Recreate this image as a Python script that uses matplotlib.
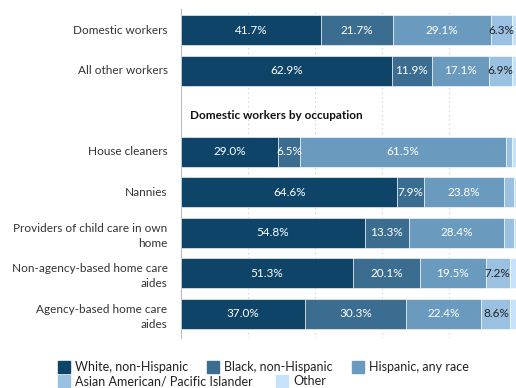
import matplotlib
matplotlib.use("Agg")
import matplotlib.pyplot as plt
from matplotlib.patches import Rectangle

plt.rcParams['font.family'] = ['Lato', 'DejaVu Sans']

categories = ["Domestic workers", "All other workers", "",
              "House cleaners", "Nannies",
              "Providers of child care in own\nhome",
              "Non-agency-based home care\naides",
              "Agency-based home care\naides"]
series_names = ["White, non-Hispanic", "Black, non-Hispanic", "Hispanic, any race",
                "Asian American/ Pacific Islander", "Other"]
white = [41.7, 62.9, None, 29.0, 64.6, 54.8, 51.3, 37.0]
black = [21.7, 11.9, None, 6.5, 7.9, 13.3, 20.1, 30.3]
hispanic = [29.1, 17.1, None, 61.5, 23.8, 28.4, 19.5, 22.4]
asian = [6.3, 6.9, None, 1.8, 3.0, 2.9, 7.2, 8.6]
other = [1.2, 1.2, None, 1.2, 0.7, 0.6, 1.9, 1.7]
colors = ["#0d4468", "#3a6d90", "#6a9bbf", "#9bc1e2", "#c6e2fb"]
label_colors = ["white", "white", "white", "#222222", "#222222"]
heading = "Domestic workers by occupation"

fig = plt.figure(figsize=(5.16, 3.88), dpi=100)
ax = fig.add_axes([181/516, 1 - 338/388, 1 - 181/516, (338 - 9)/388])

series = [white, black, hispanic, asian, other]
for i, cat in enumerate(categories):
    if white[i] is None:
        continue
    left = 0
    for s, vals in enumerate(series):
        v = vals[i]
        ax.barh(i, v, left=left, height=0.74, color=colors[s],
                edgecolor="white", linewidth=0.4, zorder=3)
        if v >= 6:
            ax.text(left + v / 2, i, f"{v:.1f}%", ha="center", va="center",
                    color=label_colors[s], fontsize=8.5, zorder=4)
        left += v

ax.set_xlim(0, 100)
ax.set_ylim(7.6, -0.52)
ax.set_yticks([])
for i, cat in enumerate(categories):
    if not cat:
        continue
    yoff = 0.08 if "\n" in cat else 0
    ax.text(-0.04, i + yoff, cat, transform=ax.get_yaxis_transform(),
            ha="right", va="center", multialignment="right",
            fontsize=8.5, color="#333333", linespacing=1.45)
ax.set_xticks([20, 40, 60, 80])
ax.tick_params(axis="x", length=0, labelbottom=False)
ax.grid(axis="x", linestyle=(0, (1, 3)), color="#c8c8c8", linewidth=0.8, zorder=0)
for sp in ["top", "right", "bottom"]:
    ax.spines[sp].set_visible(False)
ax.spines["left"].set_color("#bbbbbb")
ax.spines["left"].set_linewidth(0.8)

ax.text(2.6, 2.1, heading, fontsize=8.5, fontweight="bold", color="#111111",
        ha="left", va="center")

# legend (flow layout)
legend_items = [
    (series_names[0], colors[0], 58, 367),
    (series_names[1], colors[1], 207, 367),
    (series_names[2], colors[2], 352, 367),
    (series_names[3], colors[3], 58, 381),
    (series_names[4], colors[4], 276, 381),
]
W, H = 516, 388
for name, col, px, py in legend_items:
    fig.patches.append(Rectangle((px / W, 1 - (py + 6) / H), 12 / W, 12 / H,
                                 transform=fig.transFigure, color=col))
    fig.text((px + 17) / W, 1 - py / H, name, fontsize=9, color="#222222",
             ha="left", va="center")

fig.savefig("out.png", dpi=100)
